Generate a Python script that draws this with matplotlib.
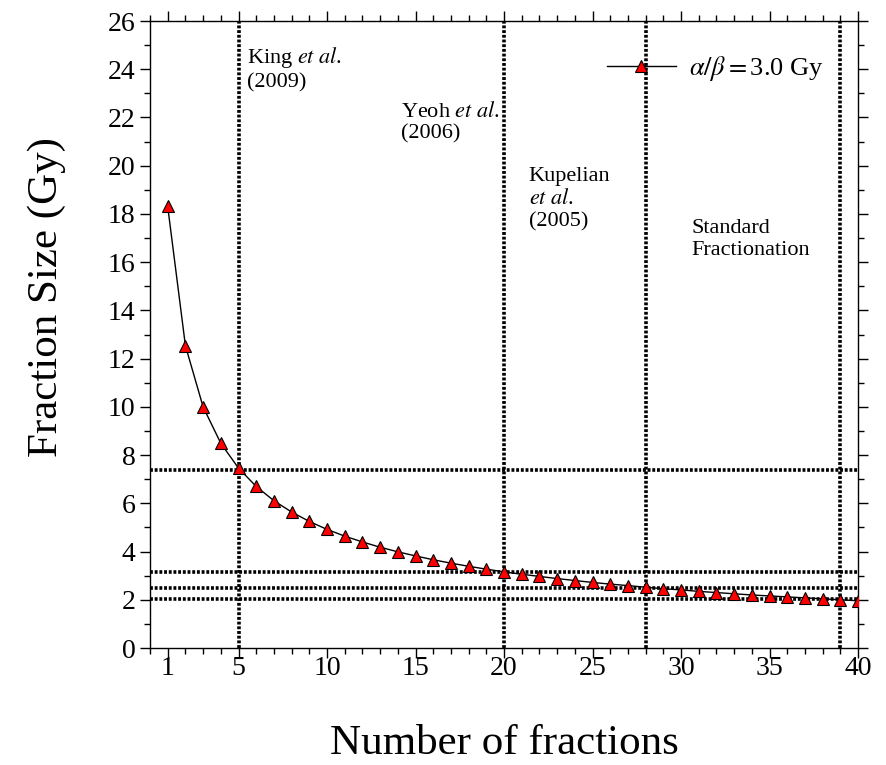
import matplotlib
matplotlib.use("Agg")
import matplotlib.pyplot as plt
from matplotlib.ticker import MultipleLocator, FixedLocator

# fractions and fraction size (alpha/beta = 3 Gy)
fractions = list(range(1, 41))
dose = [18.31, 12.54, 10.00, 8.49, 7.46, 6.70, 6.11, 5.64, 5.25, 4.92,
        4.64, 4.40, 4.18, 3.99, 3.82, 3.66, 3.52, 3.39, 3.27, 3.16,
        3.06, 2.97, 2.88, 2.80, 2.72, 2.65, 2.59, 2.52, 2.46, 2.41,
        2.35, 2.30, 2.25, 2.20, 2.16, 2.12, 2.08, 2.04, 2.00, 1.96]

vlines = [5, 20, 28, 39]
hlines = [7.4, 3.15, 2.5, 2.03]
xticks = [1, 5, 10, 15, 20, 25, 30, 35, 40]

serif = ['Liberation Serif', 'DejaVu Serif']
plt.rcParams['font.family'] = serif
plt.rcParams['mathtext.fontset'] = 'stix'

fig = plt.figure(figsize=(8.86, 7.65), dpi=100)
ax = fig.add_axes([0.1693, 0.1529, 0.7991, 0.8196])

dot = (0, (0.8, 0.5))
for v in vlines:
    ax.axvline(v, color='black', lw=2.6, linestyle=dot, zorder=1)
for h in hlines:
    ax.axhline(h, color='black', lw=2.6, linestyle=dot, zorder=1)

ax.plot(fractions, dose, color='black', lw=1.0, marker='^', markersize=8,
        markerfacecolor='red', markeredgecolor='black', markeredgewidth=0.8,
        zorder=3, label=r'$\alpha/\beta = $3.0 Gy')

ax.set_xlim(0, 40)
ax.set_ylim(0, 26)
ax.xaxis.set_major_locator(FixedLocator(xticks))
ax.xaxis.set_minor_locator(MultipleLocator(1))
ax.yaxis.set_major_locator(MultipleLocator(2))
ax.yaxis.set_minor_locator(MultipleLocator(1))
ax.tick_params(which='both', direction='out', top=True, right=True,
               labeltop=False, labelright=False, width=1)
ax.tick_params(which='major', length=7, labelsize=20)
ax.tick_params(which='minor', length=4)
ax.tick_params(axis='x', which='major', pad=-1)
for s in ax.spines.values():
    s.set_linewidth(1)

ax.set_xlabel('Number of fractions', fontsize=31, labelpad=31)
ax.set_ylabel('Fraction Size (Gy)', fontsize=31)
ax.yaxis.set_label_coords(-0.118, 0.56)

note = dict(fontsize=16, va='top', ha='left', linespacing=1.2)
ax.text(5.5, 25.0, 'King $\\it{et\\ al}$.\n(2009)', **note)
ax.text(14.2, 22.65, 'Yeoh $\\it{et\\ al}$.\n(2006)', **note)
ax.text(21.4, 19.95, 'Kupelian\n$\\it{et\\ al}$.\n(2005)', **note)
ax.text(30.6, 17.8, 'Standard\nFractionation', **note)

ax.legend(loc='upper right', bbox_to_anchor=(0.985, 0.985), frameon=False,
          fontsize=19, handlelength=2.6, handletextpad=0.5)

fig.savefig('out.png', dpi=100)
